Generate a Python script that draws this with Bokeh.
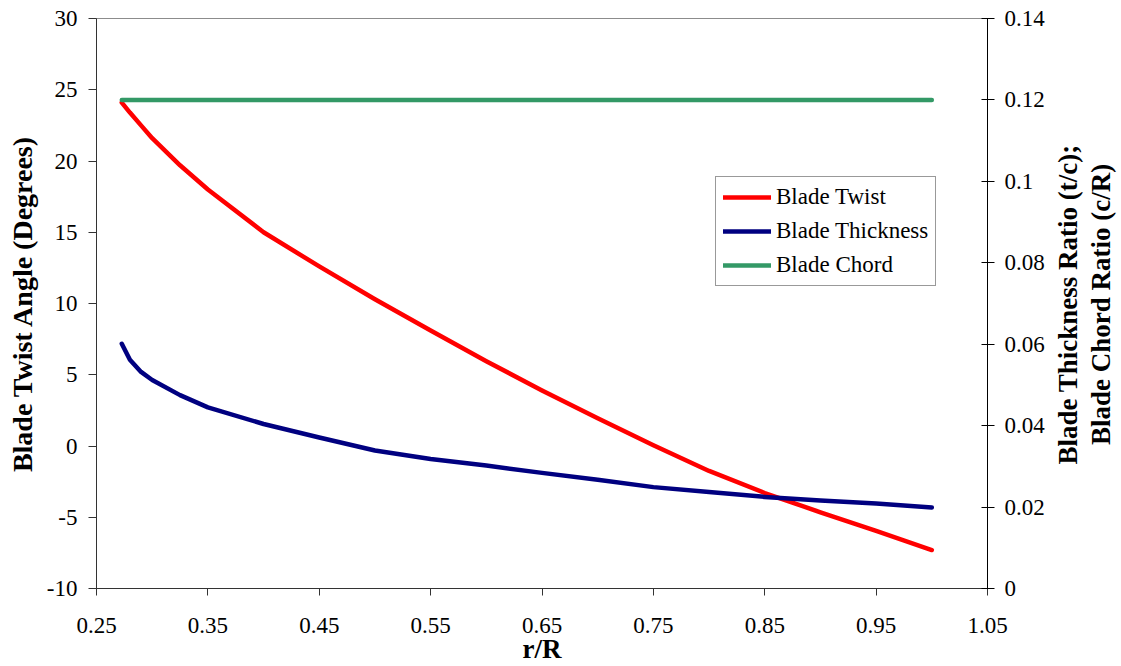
import math
from bokeh.plotting import figure
from bokeh.layouts import row
from bokeh.models import Range1d, LinearAxis, FixedTicker, Legend, LegendItem
from bokeh.core.properties import value
from bokeh.embed import file_html
from bokeh.resources import INLINE

# ---- data ----
r_R = [0.2727, 0.28, 0.29, 0.30, 0.325, 0.35, 0.40, 0.45, 0.50, 0.55, 0.60,
       0.65, 0.70, 0.75, 0.80, 0.85, 0.90, 0.95, 1.00]
blade_twist = [24.1, 23.4, 22.5, 21.6, 19.7, 18.0, 15.0, 12.6, 10.3, 8.1, 5.95,
               3.9, 1.95, 0.05, -1.75, -3.3, -4.65, -5.95, -7.3]
blade_thickness = [0.0601, 0.0562, 0.0532, 0.0512, 0.0475, 0.0445, 0.0404, 0.0371,
                   0.0339, 0.0318, 0.0302, 0.0284, 0.0267, 0.0249, 0.0237, 0.0225,
                   0.0216, 0.0209, 0.0199]
blade_chord = [0.12, 0.12, 0.12, 0.12, 0.12, 0.12, 0.12, 0.12, 0.12, 0.12, 0.12,
               0.12, 0.12, 0.12, 0.12, 0.12, 0.12, 0.12, 0.12]

x_ticks = [0.25, 0.35, 0.45, 0.55, 0.65, 0.75, 0.85, 0.95, 1.05]
x_tick_labels = ["0.25", "0.35", "0.45", "0.55", "0.65", "0.75", "0.85", "0.95", "1.05"]
left_ticks = [-10, -5, 0, 5, 10, 15, 20, 25, 30]
left_tick_labels = ["-10", "-5", "0", "5", "10", "15", "20", "25", "30"]
right_ticks = [0, 0.02, 0.04, 0.06, 0.08, 0.1, 0.12, 0.14]
right_tick_labels = ["0", "0.02", "0.04", "0.06", "0.08", "0.1", "0.12", "0.14"]
right_title_lines = ["Blade Thickness Ratio (t/c);", "Blade Chord Ratio (c/R)"]

FONT = "Liberation Serif"
TICK_SIZE = "23px"
LABEL_SIZE = "27px"
LEFT_LABEL_SIZE = "28px"

MAIN_W = 1050
SIDE_W = 1121 - MAIN_W
H = 666

p = figure(width=MAIN_W, height=H, output_backend="svg", toolbar_location=None,
           x_range=Range1d(0.25, 1.05), y_range=Range1d(-10, 30),
           min_border_left=96, min_border_right=MAIN_W - 987, min_border_top=18,
           min_border_bottom=H - 589)
p.extra_y_ranges = {"right": Range1d(0, 0.14)}
p.xgrid.visible = False
p.ygrid.visible = False
p.outline_line_color = "#8c8c8c"
p.outline_line_width = 1
p.background_fill_color = "white"
p.border_fill_color = "white"


def style_labels(ax, label_size=LABEL_SIZE):
    ax.major_label_text_font = FONT
    ax.major_label_text_font_size = TICK_SIZE
    ax.major_label_text_color = "black"
    ax.axis_label_text_font = FONT
    ax.axis_label_text_font_size = label_size
    ax.axis_label_text_font_style = "bold"
    ax.axis_label_text_color = "black"
    ax.minor_tick_line_color = None


# x axis
xa = p.xaxis[0]
xa.ticker = FixedTicker(ticks=x_ticks)
xa.major_label_overrides = dict(zip(x_ticks, x_tick_labels))
xa.major_tick_out = 7
xa.major_tick_in = 0
xa.major_label_standoff = 22
xa.axis_line_color = "#333333"
xa.major_tick_line_color = "#333333"
xa.axis_label = "r/R"
xa.axis_label_standoff = -2
style_labels(xa)

# left axis
ya = p.yaxis[0]
ya.ticker = FixedTicker(ticks=left_ticks)
ya.major_label_overrides = dict(zip(left_ticks, left_tick_labels))
ya.major_tick_out = 8
ya.major_tick_in = 0
ya.major_label_standoff = 11
ya.axis_line_color = "#333333"
ya.major_tick_line_color = "#333333"
ya.axis_label = "Blade Twist Angle (Degrees)"
ya.axis_label_standoff = 6
style_labels(ya, LEFT_LABEL_SIZE)

# right axis
ra = LinearAxis(y_range_name="right", ticker=FixedTicker(ticks=right_ticks))
ra.major_label_overrides = dict(zip(right_ticks, right_tick_labels))
ra.major_tick_out = 7
ra.major_tick_in = 6
ra.major_label_standoff = 10
ra.axis_line_color = "black"
ra.major_tick_line_color = "black"
style_labels(ra)
p.add_layout(ra, "right")

# series
r1 = p.line(r_R, blade_twist, line_color="#ff0000", line_width=4.5, line_cap="round", line_join="round")
r2 = p.line(r_R, blade_thickness, y_range_name="right", line_color="#000080", line_width=4.5,
            line_cap="round", line_join="round")
r3 = p.line(r_R, blade_chord, y_range_name="right", line_color="#339966", line_width=4.5,
            line_cap="round", line_join="round")

legend = Legend(items=[LegendItem(label="Blade Twist", renderers=[r1]),
                       LegendItem(label="Blade Thickness", renderers=[r2]),
                       LegendItem(label="Blade Chord", renderers=[r3])],
                location=(619, 302), orientation="vertical")
legend.label_text_font = FONT
legend.label_text_font_size = TICK_SIZE
legend.label_text_color = "black"
legend.glyph_width = 48
legend.glyph_height = 22
legend.label_standoff = 5
legend.padding = 7
legend.spacing = 8
legend.margin = 0
legend.border_line_color = "#333333"
legend.border_line_width = 1
legend.background_fill_color = "white"
legend.background_fill_alpha = 1.0
p.add_layout(legend, "center")

# side panel carrying the right-hand (two line) axis title, reading bottom-to-top
side = figure(width=SIDE_W, height=H, output_backend="svg", toolbar_location=None,
              x_range=Range1d(0, SIDE_W), y_range=Range1d(0, H), min_border=0)
side.axis.visible = False
side.grid.visible = False
side.outline_line_color = None
side.background_fill_color = "white"
side.border_fill_color = "white"
side.text(x=[1067 - MAIN_W, 1100 - MAIN_W], y=[H - 334, H - 334], text=right_title_lines,
          angle=math.pi / 2, text_align="center", text_baseline="middle",
          text_font=value(FONT), text_font_size=value(LABEL_SIZE),
          text_font_style="bold", text_color="black")

layout = row(p, side)
open("out.html", "w").write(file_html(layout, INLINE))
